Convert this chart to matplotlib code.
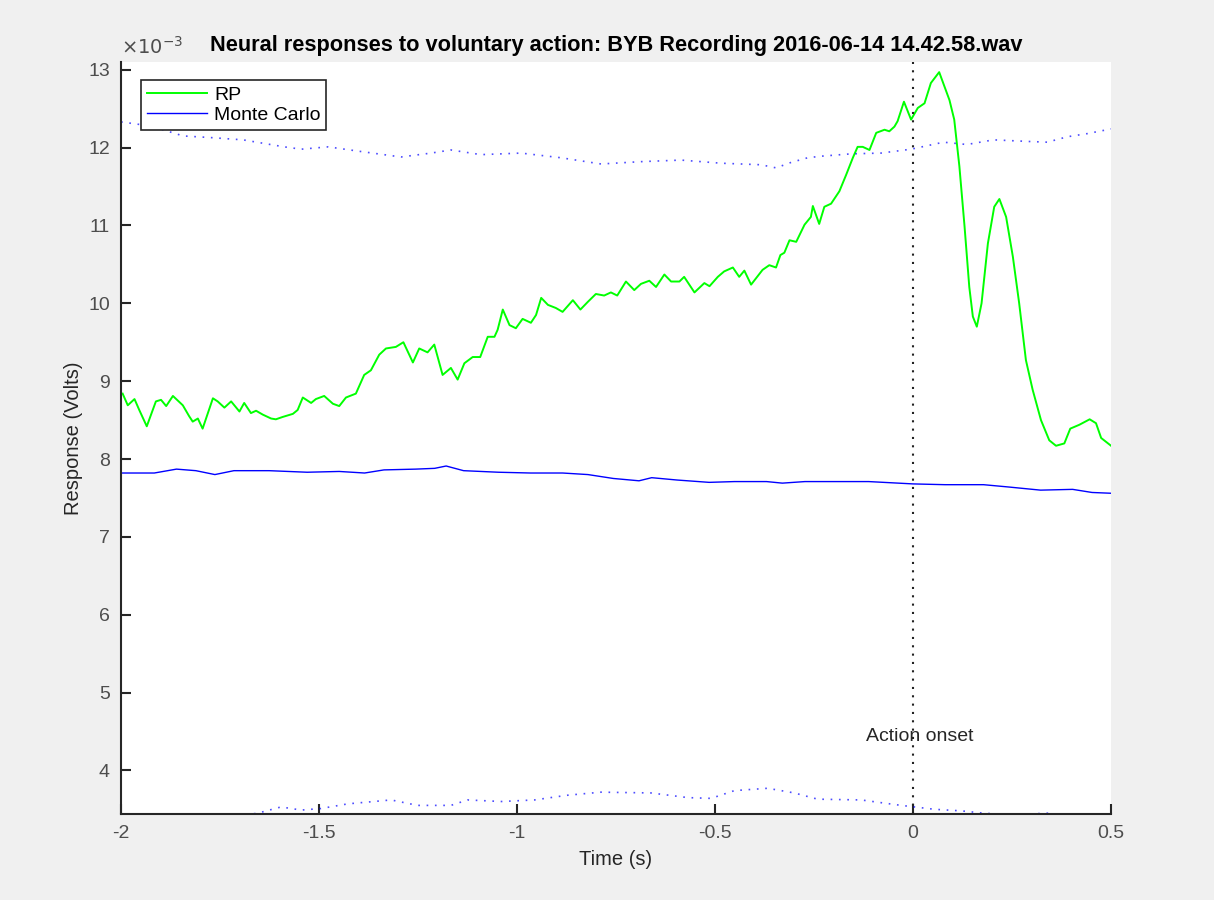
import numpy as np
import matplotlib
matplotlib.use("Agg")
import matplotlib.pyplot as plt

plt.rcParams["font.family"] = ["Liberation Sans", "DejaVu Sans"]

# values in units of 1e-3 V (axis shows the x10^-3 multiplier)
rp_t = [-1.996, -1.983, -1.966, -1.954, -1.935, -1.912, -1.899, -1.886, -1.869, -1.844,
        -1.828, -1.819, -1.806, -1.794, -1.768, -1.756, -1.739, -1.722, -1.701, -1.689,
        -1.672, -1.659, -1.642, -1.621, -1.609, -1.592, -1.566, -1.554, -1.541, -1.520,
        -1.508, -1.487, -1.465, -1.449, -1.432, -1.407, -1.386, -1.369, -1.348, -1.331,
        -1.306, -1.287, -1.263, -1.247, -1.226, -1.209, -1.188, -1.167, -1.150, -1.133,
        -1.112, -1.093, -1.074, -1.057, -1.049, -1.036, -1.019, -1.003, -0.986, -0.965,
        -0.952, -0.939, -0.922, -0.902, -0.885, -0.859, -0.840, -0.821, -0.801, -0.780,
        -0.763, -0.747, -0.725, -0.704, -0.687, -0.666, -0.649, -0.628, -0.611, -0.590,
        -0.578, -0.552, -0.527, -0.514, -0.493, -0.477, -0.455, -0.439, -0.426, -0.409,
        -0.380, -0.363, -0.346, -0.335, -0.325, -0.312, -0.295, -0.274, -0.258, -0.253,
        -0.237, -0.224, -0.207, -0.186, -0.169, -0.152, -0.140, -0.127, -0.110, -0.093,
        -0.072, -0.060, -0.047, -0.039, -0.023, -0.005, 0.012, 0.029, 0.045, 0.066,
        0.092, 0.104, 0.117, 0.130, 0.142, 0.151, 0.161, 0.173, 0.189, 0.205,
        0.218, 0.235, 0.252, 0.268, 0.285, 0.302, 0.323, 0.344, 0.361, 0.382,
        0.397, 0.420, 0.446, 0.462, 0.475, 0.500]
rp_v = [8.84, 8.69, 8.77, 8.63, 8.42, 8.74, 8.76, 8.68, 8.81, 8.69,
        8.55, 8.48, 8.52, 8.39, 8.78, 8.74, 8.66, 8.74, 8.61, 8.72,
        8.59, 8.62, 8.57, 8.52, 8.51, 8.54, 8.58, 8.63, 8.79, 8.72,
        8.77, 8.81, 8.71, 8.68, 8.79, 8.84, 9.08, 9.14, 9.34, 9.42,
        9.44, 9.50, 9.24, 9.42, 9.37, 9.47, 9.08, 9.17, 9.02, 9.23,
        9.31, 9.31, 9.57, 9.57, 9.66, 9.92, 9.72, 9.68, 9.80, 9.75,
        9.85, 10.07, 9.98, 9.94, 9.89, 10.04, 9.92, 10.02, 10.12, 10.10,
        10.14, 10.10, 10.28, 10.17, 10.25, 10.29, 10.21, 10.37, 10.28, 10.28,
        10.34, 10.14, 10.26, 10.22, 10.34, 10.41, 10.46, 10.34, 10.42, 10.24,
        10.43, 10.49, 10.46, 10.62, 10.65, 10.81, 10.79, 11.01, 11.11, 11.25,
        11.02, 11.24, 11.28, 11.44, 11.65, 11.87, 12.01, 12.01, 11.97, 12.19,
        12.23, 12.21, 12.27, 12.34, 12.59, 12.36, 12.51, 12.57, 12.83, 12.97,
        12.61, 12.36, 11.76, 10.99, 10.21, 9.83, 9.70, 10.00, 10.77, 11.24,
        11.34, 11.11, 10.60, 10.00, 9.27, 8.89, 8.50, 8.24, 8.17, 8.20,
        8.39, 8.44, 8.51, 8.46, 8.27, 8.17]

mc_t = [-2.0, -1.916, -1.860, -1.811, -1.763, -1.715, -1.626, -1.530, -1.449, -1.385,
        -1.336, -1.256, -1.208, -1.179, -1.135, -1.047, -0.966, -0.885, -0.821, -0.757,
        -0.692, -0.660, -0.596, -0.515, -0.451, -0.370, -0.330, -0.273, -0.177, -0.112,
        0.000, 0.081, 0.178, 0.242, 0.322, 0.403, 0.452, 0.500]
mc_v = [7.82, 7.82, 7.87, 7.85, 7.80, 7.85, 7.85, 7.83, 7.84, 7.82,
        7.86, 7.87, 7.88, 7.91, 7.85, 7.83, 7.82, 7.82, 7.80, 7.75,
        7.72, 7.76, 7.73, 7.70, 7.71, 7.71, 7.69, 7.71, 7.71, 7.71,
        7.68, 7.67, 7.67, 7.64, 7.60, 7.61, 7.57, 7.56]

hi_t = [-2.0, -1.927, -1.843, -1.776, -1.692, -1.588, -1.545, -1.477, -1.394, -1.293,
        -1.217, -1.167, -1.091, -0.990, -0.889, -0.788, -0.687, -0.586, -0.485, -0.384,
        -0.346, -0.308, -0.266, -0.232, -0.157, -0.081, -0.005, 0.077, 0.136, 0.203,
        0.289, 0.339, 0.390, 0.440, 0.500]
hi_v = [12.33, 12.28, 12.15, 12.13, 12.10, 12.01, 11.98, 12.01, 11.95, 11.88,
        11.93, 11.97, 11.91, 11.93, 11.87, 11.79, 11.82, 11.84, 11.80, 11.78,
        11.74, 11.81, 11.87, 11.89, 11.92, 11.93, 11.98, 12.07, 12.04, 12.10,
        12.08, 12.07, 12.14, 12.18, 12.24]

lo_t = [-2.0, -1.798, -1.697, -1.655, -1.596, -1.545, -1.495, -1.427, -1.318, -1.251,
        -1.167, -1.125, -1.040, -0.956, -0.874, -0.788, -0.662, -0.569, -0.510, -0.451,
        -0.367, -0.300, -0.241, -0.131, -0.030, 0.054, 0.121, 0.179, 0.247, 0.340,
        0.424, 0.500]
lo_v = [3.30, 3.38, 3.42, 3.45, 3.53, 3.49, 3.51, 3.57, 3.62, 3.55,
        3.55, 3.62, 3.60, 3.62, 3.68, 3.72, 3.71, 3.65, 3.64, 3.74,
        3.77, 3.71, 3.63, 3.62, 3.55, 3.50, 3.48, 3.45, 3.43, 3.45,
        3.40, 3.38]

x_ticks = [-2, -1.5, -1, -0.5, 0, 0.5]
x_tick_labels = ["-2", "-1.5", "-1", "-0.5", "0", "0.5"]
y_ticks = [4, 5, 6, 7, 8, 9, 10, 11, 12, 13]

fig = plt.figure(figsize=(12.14, 9.0), dpi=100, facecolor="#f0f0f0")
ax = fig.add_axes([0.0997, 0.0956, 0.8155, 0.8355])
ax.set_facecolor("white")

ax.plot(rp_t, rp_v, color=(0, 1, 0), lw=1.4, label="RP")
ax.plot(mc_t, mc_v, color=(0, 0, 1), lw=1.0, label="Monte Carlo")
ax.plot(hi_t, hi_v, color=(0, 0, 1), lw=1.2, alpha=0.7, linestyle=(0, (1, 4)))
ax.plot(lo_t, lo_v, color=(0, 0, 1), lw=1.2, alpha=0.7, linestyle=(0, (1, 4)))
ax.axvline(0, color="#222222", lw=1.5, linestyle=(0, (1, 3)))
ax.text(-0.119, 4.43, "Action onset", fontsize=14, color="#262626", va="center", ha="left")

ax.set_xlim(-2, 0.5)
ax.set_ylim(3.44, 13.1)
ax.set_xticks(x_ticks)
ax.set_xticklabels(x_tick_labels)
ax.set_yticks(y_ticks)
ax.set_yticklabels([str(v) for v in y_ticks])

for side in ["top", "right"]:
    ax.spines[side].set_visible(False)
for side in ["left", "bottom"]:
    ax.spines[side].set_color("#262626")
    ax.spines[side].set_linewidth(1.5)
ax.tick_params(direction="in", length=7.5, width=1.5, color="#262626",
               labelsize=14, labelcolor="#4d4d4d", pad=8)

ax.set_xlabel("Time (s)", fontsize=14.5, color="#262626", labelpad=6)
ax.set_ylabel("Response (Volts)", fontsize=14.5, color="#262626", labelpad=4)
ax.set_title("Neural responses to voluntary action: BYB Recording 2016-06-14 14.42.58.wav",
             fontsize=15.7, fontweight="bold", pad=8)
ax.text(0.0, 1.005, r"$\times10^{-3}$", transform=ax.transAxes, fontsize=14,
        color="#4d4d4d", ha="left", va="bottom")

leg = ax.legend(loc="upper left", bbox_to_anchor=(0.0202, 0.976), borderaxespad=0,
                fontsize=14, handlelength=3.1, handletextpad=0.35, borderpad=0.3,
                labelspacing=0.15, fancybox=False, framealpha=1, edgecolor="#262626")
leg.get_frame().set_linewidth(1.2)

fig.savefig("out.png", dpi=100, facecolor=fig.get_facecolor())
